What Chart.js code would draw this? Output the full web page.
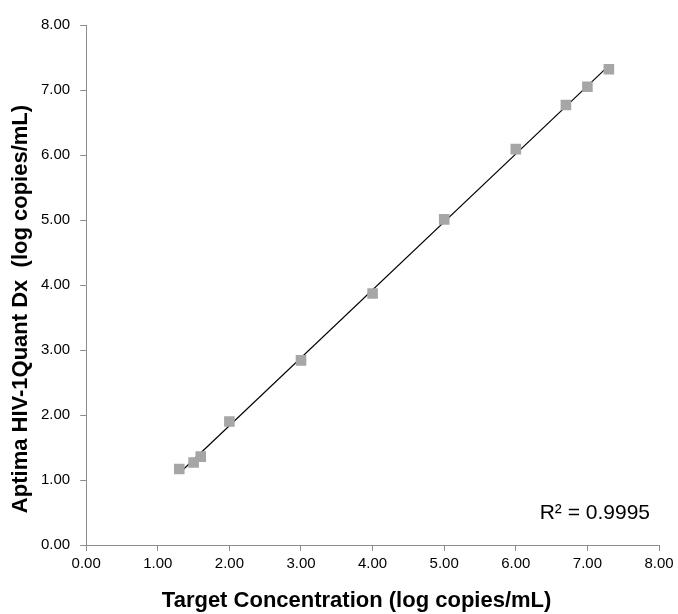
<!DOCTYPE html>
<html>
<head>
<meta charset="utf-8">
<script src="https://cdn.jsdelivr.net/npm/chart.js@4/dist/chart.umd.min.js"></script>
<style>
  html, body { margin: 0; padding: 0; background: #fff; }
  #wrap { width: 678px; height: 614px; }
</style>
</head>
<body>
<div id="wrap"><canvas id="chart"></canvas></div>
<script>
// target vs measured (log copies/mL)
const targetConc = [1.3, 1.5, 1.6, 2.0, 3.0, 4.0, 5.0, 6.0, 6.7, 7.0, 7.3];
const measuredConc = [1.17, 1.27, 1.36, 1.90, 2.84, 3.87, 5.01, 6.09, 6.77, 7.05, 7.32];
const rSquaredLabel = 'R² = 0.9995';
const xTitle = 'Target Concentration (log copies/mL)';
const yTitle = 'Aptima HIV-1Quant Dx  (log copies/mL)';

const FONT = '"Liberation Sans", Arial, sans-serif';

// least squares trendline
function fitLine(xs, ys) {
    const n = xs.length;
    const mx = xs.reduce((a, b) => a + b, 0) / n;
    const my = ys.reduce((a, b) => a + b, 0) / n;
    let sxy = 0, sxx = 0;
    for (let i = 0; i < n; i++) {
        sxy += (xs[i] - mx) * (ys[i] - my);
        sxx += (xs[i] - mx) * (xs[i] - mx);
    }
    const slope = sxy / sxx;
    return { slope, intercept: my - slope * mx };
}
const fit = fitLine(targetConc, measuredConc);
const xMin = Math.min(...targetConc), xMax = Math.max(...targetConc);
const trendPoints = [xMin, xMax].map(x => ({ x: x, y: fit.slope * x + fit.intercept }));
const scatterPoints = targetConc.map((x, i) => ({ x: x, y: measuredConc[i] }));

// axis titles + R² label (titles sit a bit off-centre in the original)
const textPlugin = {
    id: 'texts',
    afterDraw(chart) {
        const ctx = chart.ctx;
        const area = chart.chartArea;
        ctx.save();
        ctx.fillStyle = '#000';

        ctx.font = '21px ' + FONT;
        ctx.textAlign = 'right';
        ctx.textBaseline = 'alphabetic';
        ctx.fillText(rSquaredLabel, area.right - 9, area.bottom - 26);

        ctx.font = 'bold 22px ' + FONT;
        ctx.textAlign = 'center';
        ctx.textBaseline = 'middle';
        ctx.fillText(xTitle, (area.left + area.right) / 2 - 16, chart.height - 13);

        ctx.translate(21, (area.top + area.bottom) / 2 + 24);
        ctx.rotate(-Math.PI / 2);
        ctx.fillText(yTitle, 0, 0);
        ctx.restore();
    }
};

const axisStyle = {
    type: 'linear',
    min: 0,
    max: 8,
    border: { display: true, color: '#8c8c8c', width: 1 },
    grid: { drawOnChartArea: false, drawTicks: true, tickLength: 6, color: '#8c8c8c' },
    ticks: {
        stepSize: 1,
        color: '#000',
        font: { family: FONT, size: 15 },
        callback: v => v.toFixed(2)
    }
};

new Chart(document.getElementById('chart'), {
    type: 'scatter',
    data: {
        datasets: [
            {
                label: 'Results',
                data: scatterPoints,
                pointStyle: 'rect',
                pointRadius: 7.5,
                pointHoverRadius: 7.5,
                backgroundColor: '#a6a6a6',
                borderColor: '#a6a6a6',
                borderWidth: 0
            },
            {
                type: 'line',
                label: 'Linear',
                data: trendPoints,
                borderColor: '#000',
                borderWidth: 1.2,
                pointRadius: 0,
                fill: false
            }
        ]
    },
    options: {
        responsive: true,
        maintainAspectRatio: false,
        animation: false,
        layout: { padding: { top: 25, right: 19, bottom: 37, left: 31 } },
        plugins: { legend: { display: false }, tooltip: { enabled: false } },
        scales: {
            x: Object.assign({}, axisStyle, {
                position: 'bottom',
                ticks: Object.assign({}, axisStyle.ticks, { padding: 4 })
            }),
            y: Object.assign({}, axisStyle, {
                position: 'left',
                ticks: Object.assign({}, axisStyle.ticks, { padding: 10 })
            })
        }
    },
    plugins: [textPlugin]
});
</script>
</body>
</html>
